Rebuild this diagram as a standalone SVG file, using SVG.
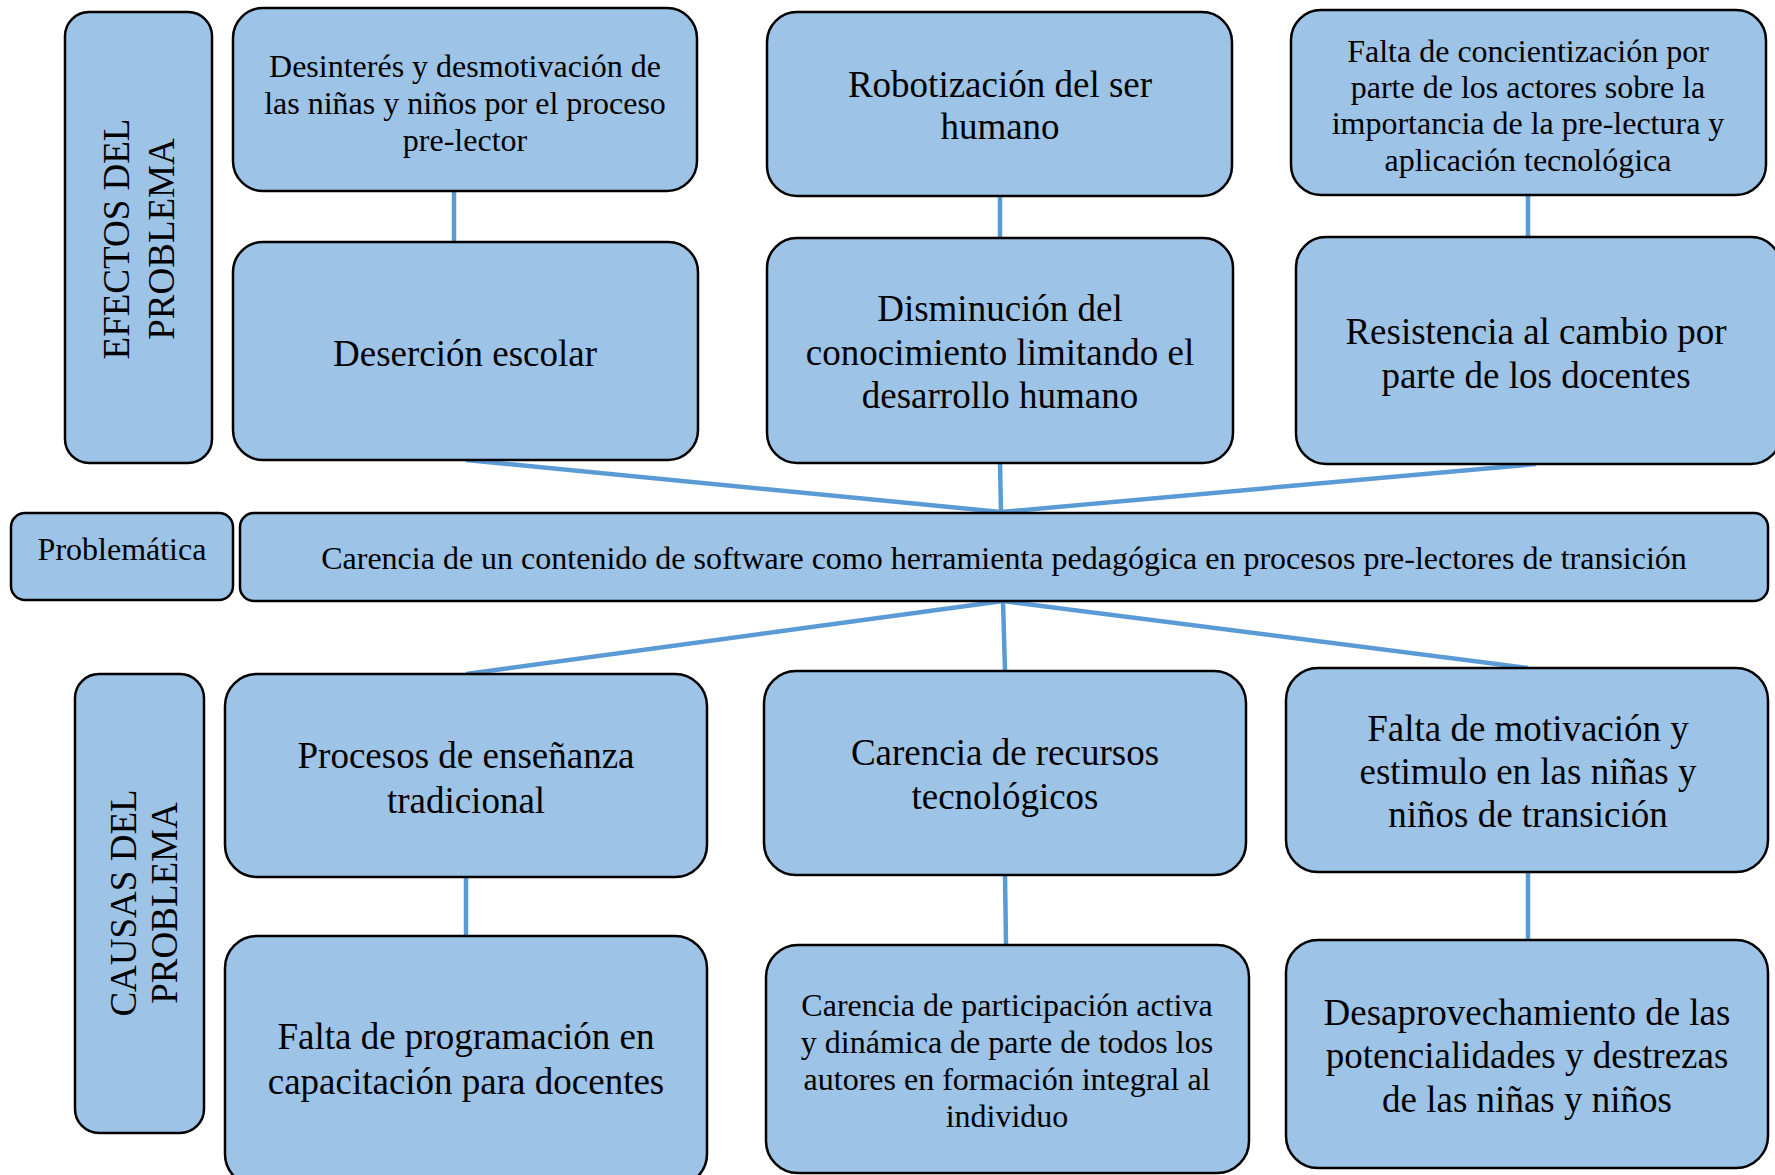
<svg xmlns="http://www.w3.org/2000/svg" width="1775" height="1175" viewBox="0 0 1775 1175">
<style>
.box{fill:#9DC3E6;stroke:#000;stroke-width:2.5}
.t{font-family:"Liberation Serif","Times New Roman",serif;fill:#000;text-anchor:middle}
.s27{font-size:32px}
.s32{font-size:37px}
.con{stroke:#5B9BD5;stroke-width:4.5;fill:none}
</style>
<rect width="1775" height="1175" fill="#fff"/>
<g id="connectors">
<line class="con" x1="454" y1="191" x2="454" y2="242"/>
<line class="con" x1="1000" y1="196" x2="1000" y2="238"/>
<line class="con" x1="1528" y1="195" x2="1528" y2="237"/>
<line class="con" x1="466" y1="460" x2="1001" y2="512"/>
<line class="con" x1="1000" y1="463" x2="1001" y2="512"/>
<line class="con" x1="1536" y1="464" x2="1001" y2="512"/>
<line class="con" x1="1003" y1="601" x2="466" y2="674"/>
<line class="con" x1="1003" y1="601" x2="1005" y2="671"/>
<line class="con" x1="1003" y1="601" x2="1528" y2="668"/>
<line class="con" x1="466" y1="877" x2="466" y2="936"/>
<line class="con" x1="1005" y1="875" x2="1006" y2="945"/>
<line class="con" x1="1528" y1="872" x2="1528" y2="940"/>
</g>
<g id="efectos">
<rect class="box" x="65" y="12" width="147" height="451" rx="24"/>
<text class="t s32" transform="translate(129,239) rotate(-90)">EFECTOS DEL</text>
<text class="t s32" transform="translate(174,239) rotate(-90)">PROBLEMA</text>
</g>
<g id="a1">
<rect class="box" x="233" y="8" width="464" height="183" rx="30"/>
<text class="t s27"><tspan x="465" y="77">Desinterés y desmotivación de</tspan><tspan x="465" y="114">las niñas y niños por el proceso</tspan><tspan x="465" y="151">pre-lector</tspan></text>
</g>
<g id="a2">
<rect class="box" x="233" y="242" width="465" height="218" rx="30"/>
<text class="t s32" x="465" y="366">Deserción escolar</text>
</g>
<g id="b1">
<rect class="box" x="767" y="12" width="465" height="184" rx="30"/>
<text class="t s32"><tspan x="1000" y="97">Robotización del ser</tspan><tspan x="1000" y="139">humano</tspan></text>
</g>
<g id="b2">
<rect class="box" x="767" y="238" width="466" height="225" rx="30"/>
<text class="t s32"><tspan x="1000" y="321">Disminución del</tspan><tspan x="1000" y="365">conocimiento limitando el</tspan><tspan x="1000" y="408">desarrollo humano</tspan></text>
</g>
<g id="c1">
<rect class="box" x="1291" y="10" width="475" height="185" rx="30"/>
<text class="t s27"><tspan x="1528" y="62">Falta de concientización por</tspan><tspan x="1528" y="98">parte de los actores sobre la</tspan><tspan x="1528" y="134">importancia de la pre-lectura y</tspan><tspan x="1528" y="171">aplicación tecnológica</tspan></text>
</g>
<g id="c2">
<rect class="box" x="1296" y="237" width="485" height="227" rx="30"/>
<text class="t s32"><tspan x="1536" y="344">Resistencia al cambio por</tspan><tspan x="1536" y="388">parte de los docentes</tspan></text>
</g>
<g id="problematica">
<rect class="box" x="11" y="513" width="222" height="87" rx="14"/>
<text class="t" x="122" y="560" font-size="32">Problemática</text>
</g>
<g id="central">
<rect class="box" x="240" y="513" width="1528" height="88" rx="14"/>
<text class="t s27" x="1004" y="569">Carencia de un contenido de software como herramienta pedagógica en procesos pre-lectores de transición</text>
</g>
<g id="causas">
<rect class="box" x="75" y="674" width="129" height="459" rx="24"/>
<text class="t s32" transform="translate(136,903) rotate(-90)">CAUSAS DEL</text>
<text class="t s32" transform="translate(177,903) rotate(-90)">PROBLEMA</text>
</g>
<g id="d1">
<rect class="box" x="225" y="674" width="482" height="203" rx="32"/>
<text class="t s32"><tspan x="466" y="768">Procesos de enseñanza</tspan><tspan x="466" y="813">tradicional</tspan></text>
</g>
<g id="d2">
<rect class="box" x="225" y="936" width="482" height="250" rx="32"/>
<text class="t s32"><tspan x="466" y="1049">Falta de programación en</tspan><tspan x="466" y="1094">capacitación para docentes</tspan></text>
</g>
<g id="e1">
<rect class="box" x="764" y="671" width="482" height="204" rx="32"/>
<text class="t s32"><tspan x="1005" y="765">Carencia de recursos</tspan><tspan x="1005" y="809">tecnológicos</tspan></text>
</g>
<g id="e2">
<rect class="box" x="766" y="945" width="483" height="228" rx="32"/>
<text class="t s27"><tspan x="1007" y="1016">Carencia de participación activa</tspan><tspan x="1007" y="1053">y dinámica de parte de todos los</tspan><tspan x="1007" y="1090">autores en formación integral al</tspan><tspan x="1007" y="1127">individuo</tspan></text>
</g>
<g id="f1">
<rect class="box" x="1286" y="668" width="482" height="204" rx="32"/>
<text class="t s32"><tspan x="1528" y="741">Falta de motivación y</tspan><tspan x="1528" y="784">estimulo en las niñas y</tspan><tspan x="1528" y="827">niños de transición</tspan></text>
</g>
<g id="f2">
<rect class="box" x="1286" y="940" width="482" height="228" rx="32"/>
<text class="t s32"><tspan x="1527" y="1025">Desaprovechamiento de las</tspan><tspan x="1527" y="1068">potencialidades y destrezas</tspan><tspan x="1527" y="1112">de las niñas y niños</tspan></text>
</g>
</svg>
